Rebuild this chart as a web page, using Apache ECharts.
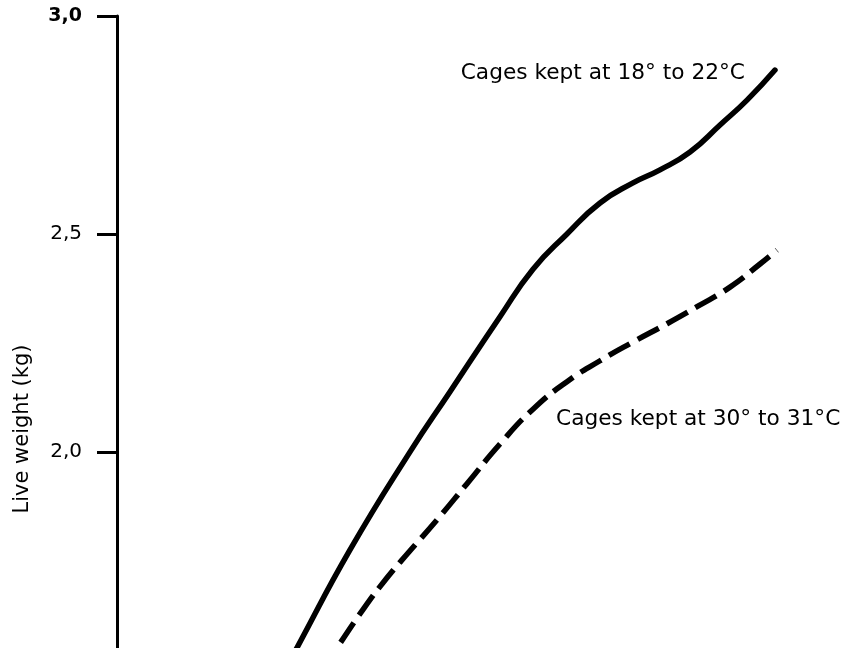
<!DOCTYPE html>
<html>
<head>
<meta charset="utf-8">
<script src="https://cdn.jsdelivr.net/npm/echarts@6/dist/echarts.min.js"></script>
<style>html,body{margin:0;padding:0;background:#fff;}#c{width:843px;height:648px;}</style>
</head>
<body>
<div id="c"></div>
<script>
// Age (arbitrary units, the x axis is outside the crop) and live weight (kg)
const warmX = [23.16, 24.79, 32.09, 40.36, 45.87, 52.75, 57.30, 61.98, 66.53, 71.07, 74.79, 78.93, 83.06, 86.78, 90.63];
const warmY = [1.500, 1.5505, 1.775, 2.000, 2.138, 2.310, 2.419, 2.500, 2.571, 2.617, 2.647, 2.688, 2.750, 2.807, 2.876];
const hotX = [28.25, 30.30, 33.88, 37.19, 40.36, 44.08, 48.21, 52.75, 57.30, 61.98, 66.53, 71.07, 75.76, 79.89, 84.44, 88.57, 90.91];
const hotY = [1.500, 1.5505, 1.638, 1.711, 1.773, 1.844, 1.927, 2.018, 2.098, 2.161, 2.209, 2.252, 2.294, 2.333, 2.378, 2.431, 2.463];
const yTickValues = [2.0, 2.5, 3.0];
const yTickLabels = ['2,0', '2,5', '3,0'];
const yName = 'Live weight (kg)';
const note1 = 'Cages kept at 18° to 22°C';
const note2 = 'Cages kept at 30° to 31°C';

const FONT = '"DejaVu Sans", sans-serif';
const chart = echarts.init(document.getElementById('c'));
const pair = (xs, ys) => xs.map((x, i) => [x, ys[i]]);

chart.setOption({
  backgroundColor: '#ffffff',
  animation: false,
  grid: { left: 117, right: 0, top: 16, bottom: 0, containLabel: false },
  xAxis: { type: 'value', min: 0, max: 100, show: false },
  yAxis: {
    type: 'value', min: 1.55, max: 3.0,
    axisLine: { show: true, lineStyle: { color: '#000', width: 3 } },
    axisTick: { show: true, inside: false, length: 20, customValues: yTickValues, lineStyle: { color: '#000', width: 3 } },
    splitLine: { show: false },
    axisLabel: {
      margin: 35, color: '#000', fontFamily: FONT, fontSize: 20,
      customValues: yTickValues,
      formatter: v => {
        const i = yTickValues.findIndex(t => Math.abs(t - v) < 1e-6);
        const s = i >= 0 ? yTickLabels[i] : '';
        return v >= 2.999 ? '{b|' + s + '}' : '{n|' + s + '}';
      },
      rich: {
        b: { fontFamily: FONT, fontSize: 19, fontWeight: 'bold', color: '#000' },
        n: { fontFamily: FONT, fontSize: 20, color: '#000' }
      }
    }
  },
  series: [
    {
      type: 'line', data: pair(warmX, warmY), smooth: 0.5, symbol: 'none', clip: true,
      lineStyle: { color: '#000', width: 5.5, cap: 'round' }
    },
    {
      type: 'line', data: pair(hotX, hotY), smooth: 0.5, symbol: 'none', clip: true,
      lineStyle: { color: '#000', width: 5.5, type: [24, 9], cap: 'butt' }
    }
  ],
  graphic: [
    { type: 'text', x: 23, y: 429, rotation: Math.PI / 2,
      style: { text: yName, font: '21px ' + FONT, fill: '#000', textAlign: 'center', textVerticalAlign: 'middle' } },
    { type: 'text', x: 745, y: 73,
      style: { text: note1, font: '21.7px ' + FONT, fill: '#000', textAlign: 'right', textVerticalAlign: 'middle' } },
    { type: 'text', x: 556, y: 419,
      style: { text: note2, font: '21.7px ' + FONT, fill: '#000', textAlign: 'left', textVerticalAlign: 'middle' } }
  ]
});
</script>
</body>
</html>
